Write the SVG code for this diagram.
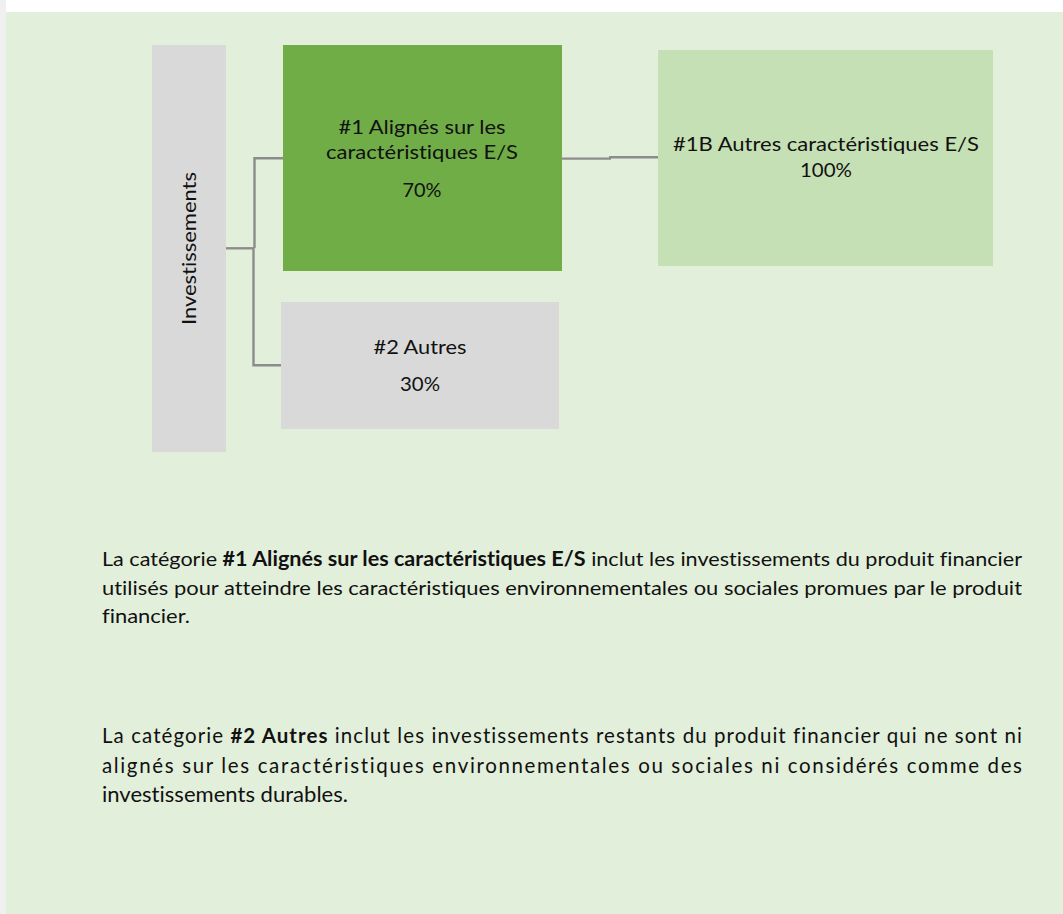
<svg xmlns="http://www.w3.org/2000/svg" width="1063" height="914" viewBox="0 0 1063 914">
<style>
.t{font-family:Lato,"Open Sans","Liberation Sans",sans-serif;fill:#111;font-variant-ligatures:none;font-feature-settings:"liga" 0;}
.n{font-size:20px;text-anchor:middle;}
.p{font-size:20px;}
.p2{font-size:20.5px;}
.b{font-weight:bold;}
.c{fill:none;stroke:#8C8C8C;stroke-width:2.4;}
</style>
<rect x="0" y="0" width="1063" height="914" fill="#FFFFFF"/>
<rect x="0" y="0" width="6" height="914" fill="#F0F0F0"/>
<rect x="6" y="12" width="1057" height="902" fill="#E2EFDA"/>
<g id="connectors">
<polyline class="c" points="226,248.3 254,248.3"/>
<polyline class="c" points="283,158.3 254.5,158.3 254.5,248.3"/>
<polyline class="c" points="253.5,248.3 253.5,365.3 281,365.3"/>
<polyline class="c" points="562,158.6 611,158.6"/>
<polyline class="c" points="609,157.3 658,157.3"/>
</g>
<g id="investissements">
<rect x="152" y="45" width="74" height="407" fill="#D9D9D9"/>
<text class="t n" transform="translate(196,248.5) rotate(-90)" x="0" y="0" textLength="153" lengthAdjust="spacingAndGlyphs">Investissements</text>
</g>
<g id="n1">
<rect x="283" y="45" width="279" height="226" fill="#70AD47"/>
<text class="t n" x="422" y="134" textLength="167" lengthAdjust="spacingAndGlyphs">#1 Alignés sur les</text>
<text class="t n" x="422" y="159" textLength="192" lengthAdjust="spacingAndGlyphs">caractéristiques E/S</text>
<text class="t n" x="422" y="197" textLength="39" lengthAdjust="spacingAndGlyphs">70%</text>
</g>
<g id="n2">
<rect x="281" y="302" width="278" height="127" fill="#D9D9D9"/>
<text class="t n" x="420" y="354" textLength="93" lengthAdjust="spacingAndGlyphs">#2 Autres</text>
<text class="t n" x="420" y="391" textLength="40" lengthAdjust="spacingAndGlyphs">30%</text>
</g>
<g id="n1b">
<rect x="658" y="50" width="335" height="216" fill="#C5E0B4"/>
<text class="t n" x="826" y="151" textLength="306" lengthAdjust="spacingAndGlyphs">#1B Autres caractéristiques E/S</text>
<text class="t n" x="826" y="177" textLength="52" lengthAdjust="spacingAndGlyphs">100%</text>
</g>
<g id="text1">
<text class="t p" x="102" y="566" textLength="920" lengthAdjust="spacingAndGlyphs">La catégorie <tspan class="b">#1 Alignés sur les caractéristiques E/S</tspan> inclut les investissements du produit financier</text>
<text class="t p" x="102" y="595" textLength="920" lengthAdjust="spacingAndGlyphs">utilisés pour atteindre les caractéristiques environnementales ou sociales promues par le produit</text>
<text class="t p" x="102" y="623" textLength="88" lengthAdjust="spacingAndGlyphs">financier.</text>
</g>
<g id="text2">
<text class="t p2" x="102" y="743" textLength="920" lengthAdjust="spacing">La catégorie <tspan class="b">#2 Autres</tspan> inclut les investissements restants du produit financier qui ne sont ni</text>
<text class="t p2" x="102" y="773" textLength="920" lengthAdjust="spacing">alignés sur les caractéristiques environnementales ou sociales ni considérés comme des</text>
<text class="t p2" x="102" y="802" textLength="246" lengthAdjust="spacingAndGlyphs">investissements durables.</text>
</g>
</svg>
